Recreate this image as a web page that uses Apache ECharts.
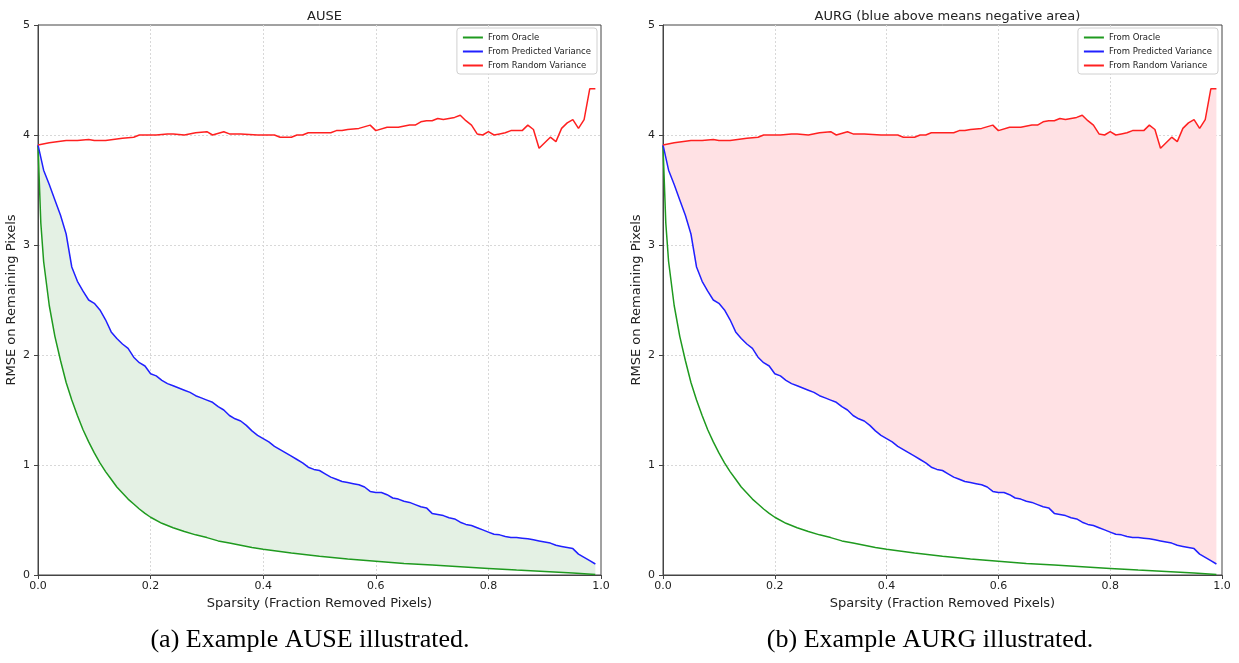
<!DOCTYPE html>
<html>
<head>
<meta charset="utf-8">
<script src="https://cdn.jsdelivr.net/npm/echarts@6/dist/echarts.min.js"></script>
<style>
html, body { margin: 0; padding: 0; background: #fff; }
#chart { width: 1239px; height: 663px; }
</style>
</head>
<body>
<div id="chart"></div>
<script>
// sparsity (fraction removed pixels) and RMSE curves
const oracleX = [0, 0.005, 0.01, 0.02, 0.03, 0.04, 0.05, 0.06, 0.07, 0.08, 0.09, 0.10, 0.11, 0.12, 0.13, 0.14, 0.15, 0.16, 0.17, 0.18, 0.19, 0.20,
	0.22, 0.24, 0.26, 0.28, 0.30, 0.32, 0.34, 0.36, 0.38, 0.40, 0.45, 0.50, 0.55, 0.60, 0.65, 0.70, 0.75, 0.80, 0.85, 0.90, 0.95, 0.99]
const oracleY = [3.90, 3.20, 2.85, 2.45, 2.17, 1.95, 1.75, 1.59, 1.45, 1.32, 1.21, 1.11, 1.02, 0.94, 0.87, 0.80, 0.745, 0.69, 0.645, 0.60, 0.56, 0.525,
	0.47, 0.43, 0.395, 0.365, 0.34, 0.31, 0.29, 0.27, 0.25, 0.235, 0.20, 0.17, 0.145, 0.125, 0.105, 0.09, 0.075, 0.06, 0.045, 0.032, 0.018, 0.005]

const predX = [0, 0.01, 0.02, 0.03, 0.04, 0.05, 0.06, 0.07, 0.08, 0.09, 0.10, 0.11, 0.12, 0.13, 0.14, 0.15, 0.16, 0.17, 0.18, 0.19,
	0.20, 0.21, 0.22, 0.23, 0.24, 0.25, 0.26, 0.27, 0.28, 0.29, 0.30, 0.31, 0.32, 0.33, 0.34, 0.35, 0.36, 0.37, 0.38, 0.39,
	0.40, 0.41, 0.42, 0.43, 0.44, 0.45, 0.46, 0.47, 0.48, 0.49, 0.50, 0.51, 0.52, 0.53, 0.54, 0.55, 0.56, 0.57, 0.58, 0.59,
	0.60, 0.61, 0.62, 0.63, 0.64, 0.65, 0.66, 0.67, 0.68, 0.69, 0.70, 0.71, 0.72, 0.73, 0.74, 0.75, 0.76, 0.77, 0.78, 0.79,
	0.80, 0.81, 0.82, 0.83, 0.84, 0.85, 0.86, 0.87, 0.88, 0.89, 0.90, 0.91, 0.92, 0.93, 0.94, 0.95, 0.96, 0.97, 0.98, 0.99]
const predY = [3.91, 3.68, 3.55, 3.41, 3.27, 3.10, 2.80, 2.67, 2.58, 2.50, 2.47, 2.41, 2.32, 2.21, 2.15, 2.10, 2.06, 1.98, 1.93, 1.90,
	1.83, 1.81, 1.77, 1.74, 1.72, 1.70, 1.68, 1.66, 1.63, 1.61, 1.59, 1.57, 1.53, 1.50, 1.45, 1.42, 1.40, 1.36, 1.31, 1.27,
	1.24, 1.21, 1.17, 1.14, 1.11, 1.08, 1.05, 1.02, 0.98, 0.96, 0.95, 0.92, 0.89, 0.87, 0.85, 0.84, 0.83, 0.82, 0.80, 0.76,
	0.75, 0.75, 0.73, 0.70, 0.69, 0.67, 0.66, 0.64, 0.62, 0.61, 0.56, 0.55, 0.54, 0.52, 0.51, 0.48, 0.46, 0.45, 0.43, 0.41,
	0.39, 0.37, 0.365, 0.35, 0.34, 0.34, 0.335, 0.33, 0.32, 0.31, 0.30, 0.29, 0.27, 0.26, 0.25, 0.24, 0.19, 0.16, 0.13, 0.10]

const randX = [0, 0.02, 0.05, 0.07, 0.09, 0.10, 0.12, 0.15, 0.17, 0.18, 0.21, 0.23, 0.24, 0.26, 0.28, 0.30, 0.31, 0.33, 0.34, 0.36,
	0.39, 0.41, 0.42, 0.43, 0.45, 0.46, 0.47, 0.48, 0.50, 0.52, 0.53, 0.54, 0.55, 0.57, 0.59, 0.60, 0.62, 0.64, 0.66, 0.67,
	0.68, 0.69, 0.70, 0.71, 0.72, 0.74, 0.75, 0.76, 0.77, 0.78, 0.79, 0.80, 0.81, 0.82, 0.83, 0.84, 0.86, 0.87, 0.88, 0.89,
	0.90, 0.91, 0.92, 0.93, 0.94, 0.95, 0.96, 0.97, 0.98, 0.99]
const randY = [3.91, 3.93, 3.95, 3.95, 3.96, 3.95, 3.95, 3.97, 3.98, 4.00, 4.00, 4.01, 4.01, 4.00, 4.02, 4.03, 4.00, 4.03, 4.01, 4.01,
	4.00, 4.00, 4.00, 3.98, 3.98, 4.00, 4.00, 4.02, 4.02, 4.02, 4.04, 4.04, 4.05, 4.06, 4.09, 4.04, 4.07, 4.07, 4.09, 4.09,
	4.12, 4.13, 4.13, 4.15, 4.14, 4.16, 4.18, 4.13, 4.09, 4.01, 4.00, 4.03, 4.00, 4.01, 4.02, 4.04, 4.04, 4.09, 4.05, 3.88,
	3.93, 3.98, 3.94, 4.06, 4.11, 4.14, 4.06, 4.14, 4.42, 4.42]

const xTicks = [0, 0.2, 0.4, 0.6, 0.8, 1.0]
const yTicks = [0, 1, 2, 3, 4, 5]
const names = ['From Oracle', 'From Predicted Variance', 'From Random Variance']
const titles = ['AUSE', 'AURG (blue above means negative area)']
const captions = ['(a) Example AUSE illustrated.', '(b) Example AURG illustrated.']

const pairs = ( xs, ys ) => xs.map( ( x, i ) => [ x, ys[ i ] ] )
const oracle = pairs( oracleX, oracleY )
const pred = pairs( predX, predY )
const rand = pairs( randX, randY )

const FONT = 'DejaVu Sans'
const colors = [ '#1f9a1f', '#2020ff', '#ff2020' ]
const plots = [
	{ left: 38, right: 638 },
	{ left: 663, right: 17 },
]

const band = ( upper, lower, idx, fill ) => ( {
	type: 'custom',
	xAxisIndex: idx, yAxisIndex: idx,
	silent: true, z: 1,
	data: [ [ 0, 0 ] ],
	renderItem: ( params, api ) => {
		const pts = upper.map( p => api.coord( p ) )
			.concat( lower.slice().reverse().map( p => api.coord( p ) ) )
		return { type: 'polygon', shape: { points: pts }, style: { fill: fill } }
	},
} )

const lines = idx => [ oracle, pred, rand ].map( ( d, i ) => ( {
	name: names[ i ], type: 'line',
	xAxisIndex: idx, yAxisIndex: idx,
	data: d, showSymbol: false, symbol: 'none', z: 3,
	color: colors[ i ],
	lineStyle: { width: 1.5, color: colors[ i ] },
} ) )

const split = { show: true, showMinLine: false, showMaxLine: false, lineStyle: { color: '#d8d8d8', type: [ 2, 2 ], width: 1 } }

const option = {
	animation: false,
	backgroundColor: '#fff',
	title: plots.map( ( p, i ) => ( {
		text: titles[ i ],
		left: i === 0 ? 38 + 563 / 2 : 663 + 559 / 2,
		textAlign: 'center',
		top: 5,
		textStyle: { fontFamily: FONT, fontSize: 13, fontWeight: 'normal', color: '#222' },
	} ) ),
	legend: plots.map( ( p, i ) => ( {
		data: names,
		orient: 'vertical',
		right: p.right + 4,
		top: 28,
		icon: 'rect',
		itemWidth: 20, itemHeight: 2, itemGap: 5,
		padding: [ 5, 6, 4, 6 ],
		borderColor: '#d0d0d0', borderWidth: 1, borderRadius: 3,
		backgroundColor: '#fff',
		textStyle: { fontFamily: FONT, fontSize: 8.5, color: '#222' },
	} ) ),
	grid: plots.map( p => ( {
		left: p.left, right: p.right, top: 25, bottom: 88,
		show: true, borderColor: '#444', borderWidth: 1, backgroundColor: 'transparent',
	} ) ),
	xAxis: plots.map( ( p, i ) => ( {
		type: 'value', gridIndex: i, min: xTicks[ 0 ], max: xTicks[ xTicks.length - 1 ], interval: 0.2,
		name: 'Sparsity (Fraction Removed Pixels)', nameLocation: 'middle', nameGap: 20,
		nameTextStyle: { fontFamily: FONT, fontSize: 13, color: '#222' },
		axisLine: { show: true, lineStyle: { color: '#444', width: 1 } },
		axisTick: { show: true, inside: false, length: 4, lineStyle: { color: '#444' } },
		axisLabel: { fontFamily: FONT, fontSize: 11, color: '#222', margin: 6, formatter: v => v.toFixed( 1 ) },
		splitLine: split,
	} ) ),
	yAxis: plots.map( ( p, i ) => ( {
		type: 'value', gridIndex: i, min: yTicks[ 0 ], max: yTicks[ yTicks.length - 1 ], interval: 1,
		name: 'RMSE on Remaining Pixels', nameLocation: 'middle', nameGap: 20,
		nameTextStyle: { fontFamily: FONT, fontSize: 13, color: '#222' },
		axisLine: { show: true, lineStyle: { color: '#444', width: 1 } },
		axisTick: { show: true, inside: false, length: 4, lineStyle: { color: '#444' } },
		axisLabel: { fontFamily: FONT, fontSize: 11, color: '#222', margin: 8 },
		splitLine: split,
	} ) ),
	graphic: captions.map( ( c, i ) => ( {
		type: 'text',
		x: i === 0 ? 310 : 930, y: 640,
		style: {
			text: c, fill: '#000',
			font: '26px "Liberation Serif", "Times New Roman", serif',
			textAlign: 'center', textVerticalAlign: 'middle',
			align: 'center', verticalAlign: 'middle',
		},
	} ) ),
	series: [
		band( pred, oracle, 0, '#e4f1e4' ),
		...lines( 0 ),
		band( rand, pred, 1, '#ffe1e4' ),
		...lines( 1 ),
	],
}

const chart = echarts.init( document.getElementById( 'chart' ), null, { renderer: 'canvas' } )
chart.setOption( option )
</script>
</body>
</html>
